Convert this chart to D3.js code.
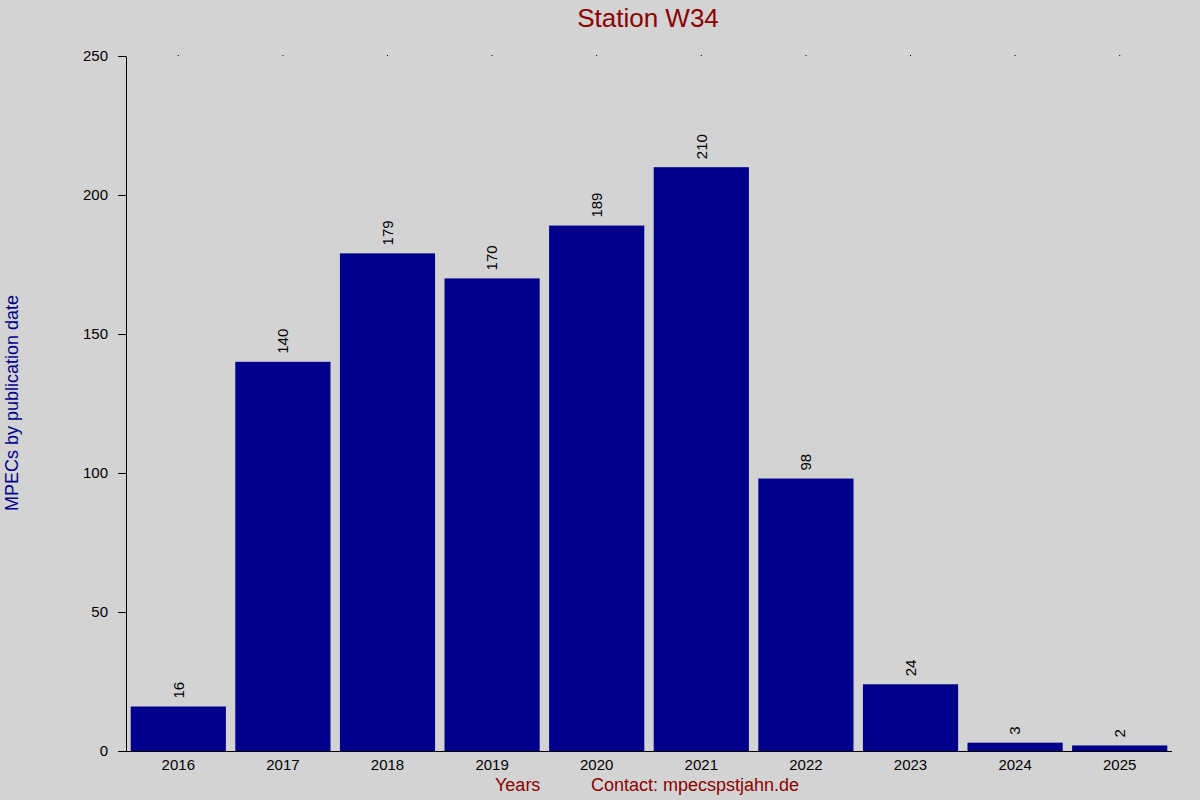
<!DOCTYPE html>
<html>
<head>
<meta charset="utf-8">
<script src="https://cdn.jsdelivr.net/npm/d3@7"></script>
<style>
    body { margin: 0; background: #d3d3d3; }
    svg { display: block; font-family: 'Liberation Sans', Arial, sans-serif; }
</style>
</head>
<body>
<svg width="1200" height="800"></svg>
<script>
// chart data
var years = ['2016', '2017', '2018', '2019', '2020', '2021', '2022', '2023', '2024', '2025'];
var counts = [16, 140, 179, 170, 189, 210, 98, 24, 3, 2];
var yTicks = [0, 50, 100, 150, 200, 250];

var data = years.map(function (y, i) {
    return { year: y, count: counts[i] };
});

var fontFam = "'Liberation Sans', Arial, sans-serif";

var svg = d3.select('svg');
var svgWidth = +svg.attr('width');
var svgHeight = +svg.attr('height');

svg.append('rect')
    .attr('width', svgWidth)
    .attr('height', svgHeight)
    .attr('fill', '#d3d3d3');

var padding = { t: 56, r: 28, b: 49, l: 126 };
var chartWidth = svgWidth - padding.l - padding.r;
var chartHeight = svgHeight - padding.t - padding.b;

var xScale = d3.scaleBand()
    .domain(years)
    .range([0, chartWidth])
    .paddingInner(0.09)
    .paddingOuter(0.045);

var yScale = d3.scaleLinear()
    .domain([0, 250])
    .range([chartHeight, 0]);

var chartG = svg.append('g')
    .attr('transform', `translate(${padding.l}, ${padding.t})`);

// bars
chartG.selectAll('.bar')
    .data(data)
    .enter()
    .append('rect')
    .attr('class', 'bar')
    .attr('x', d => xScale(d.year))
    .attr('y', d => yScale(d.count))
    .attr('width', xScale.bandwidth())
    .attr('height', d => chartHeight - yScale(d.count))
    .attr('fill', '#00008b');

// value labels, rotated
chartG.selectAll('.value')
    .data(data)
    .enter()
    .append('text')
    .attr('class', 'value')
    .attr('transform', function (d) {
        var cx = xScale(d.year) + xScale.bandwidth() / 2;
        return `translate(${cx}, ${yScale(d.count) - 8}) rotate(-90)`;
    })
    .attr('dy', '0.35em')
    .attr('text-anchor', 'start')
    .style('font-size', '15px')
    .attr('fill', '#000')
    .text(d => d.count);

// y axis
var yAxis = chartG.append('g')
    .attr('class', 'y axis')
    .call(d3.axisLeft(yScale).tickValues(yTicks).tickSize(8).tickPadding(10).tickSizeOuter(0));
yAxis.attr('font-family', fontFam).attr('font-size', 15);
yAxis.selectAll('text').attr('fill', '#000');
yAxis.selectAll('line, path').attr('stroke', '#000');

// x axis
var xAxis = chartG.append('g')
    .attr('class', 'x axis')
    .attr('transform', `translate(0, ${chartHeight})`)
    .call(d3.axisBottom(xScale).tickSize(0).tickPadding(8).tickSizeOuter(0));
xAxis.attr('font-family', fontFam).attr('font-size', 15);
xAxis.selectAll('text').attr('fill', '#000');
xAxis.select('.domain')
    .attr('stroke', '#000')
    .attr('d', `M-8,0.5H${chartWidth}`);

// small top ticks
var topAxis = chartG.append('g')
    .call(d3.axisTop(xScale).tickSize(1).tickFormat(''));
topAxis.select('.domain').remove();
topAxis.selectAll('line').attr('stroke', '#000');

// title and axis labels
svg.append('text')
    .attr('x', 648)
    .attr('y', 27)
    .attr('text-anchor', 'middle')
    .attr('fill', '#8b0000')
    .style('font-size', '26px')
    .text('Station W34');

svg.append('text')
    .attr('transform', 'translate(18, 403) rotate(-90)')
    .attr('text-anchor', 'middle')
    .attr('fill', '#00008b')
    .style('font-size', '18px')
    .text('MPECs by publication date');

svg.append('text')
    .attr('x', 495)
    .attr('y', 791)
    .attr('fill', '#8b0000')
    .style('font-size', '18px')
    .text('Years');

svg.append('text')
    .attr('x', 591)
    .attr('y', 791)
    .attr('fill', '#8b0000')
    .style('font-size', '18px')
    .text('Contact: mpecspstjahn.de');
</script>
</body>
</html>
